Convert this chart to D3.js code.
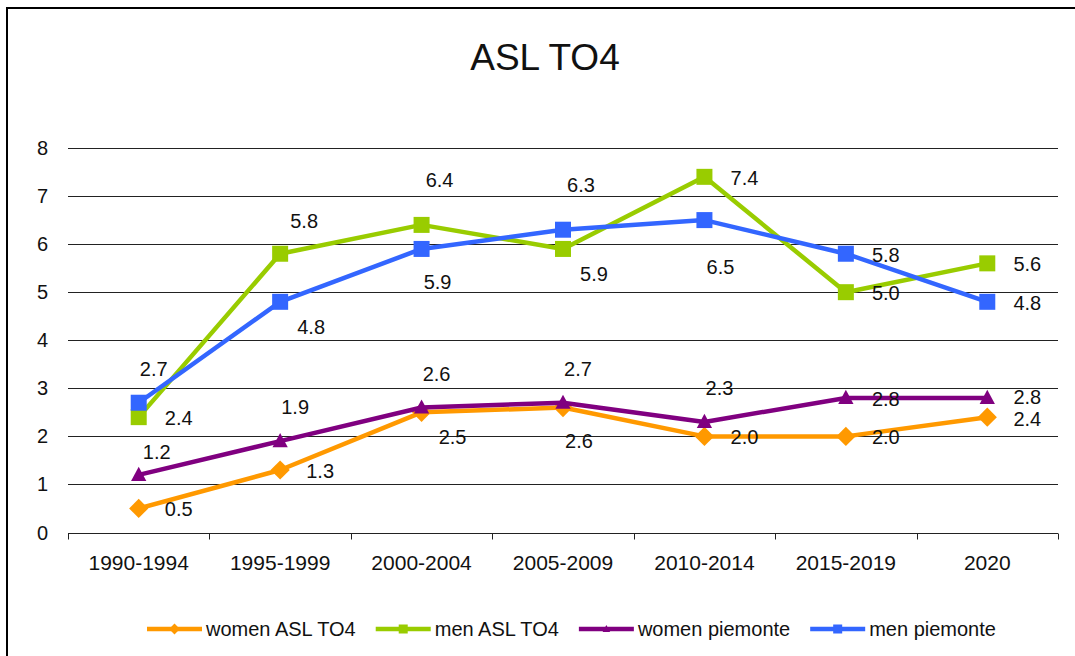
<!DOCTYPE html>
<html><head><meta charset="utf-8">
<script src="https://cdn.jsdelivr.net/npm/d3@7"></script>
<style>body{margin:0;background:#fff}svg{display:block}text{font-family:"Liberation Sans",Arial,sans-serif;fill:#111}</style>
</head><body>
<svg id="c" width="1075" height="656"></svg>
<script>
const categories = ["1990-1994","1995-1999","2000-2004","2005-2009","2010-2014","2015-2019","2020"];
const seriesNames = ["women ASL TO4","men ASL TO4","women piemonte","men piemonte"];
const womenASL = [0.5,1.3,2.5,2.6,2.0,2.0,2.4];
const menASL = [2.4,5.8,6.4,5.9,7.4,5.0,5.6];
const womenPiem = [1.2,1.9,2.6,2.7,2.3,2.8,2.8];
const menPiem = [2.7,4.8,5.9,6.3,6.5,5.8,4.8];
const yTicks = [0,1,2,3,4,5,6,7,8];
// label placement codes: a=above, A=high above, n=near above, b=below, B=far below, r=right, ar=above-right, br=below-right, ru/rd=right slightly up/down
const placeWomenASL = ["r","r","br","b","r","r","rd"];
const placeMenASL = ["r","ar","A","br","r","r","r"];
const placeWomenPiem = ["n","a","a","a","a","r","ru"];
const placeMenPiem = ["a","br","b","A","B","r","r"];

(function(){
const offsets = {a:[15,-34], A:[18,-45], n:[18,-23], b:[16,33], B:[16,47], r:[40,1], ru:[40,-1], rd:[40,2], ar:[24,-33], br:[31,25]};
const series = [
  {name:seriesNames[0], values:womenASL, place:placeWomenASL, color:"#FF9900", marker:"diamond"},
  {name:seriesNames[1], values:menASL, place:placeMenASL, color:"#99CC00", marker:"square"},
  {name:seriesNames[2], values:womenPiem, place:placeWomenPiem, color:"#800080", marker:"triangle"},
  {name:seriesNames[3], values:menPiem, place:placeMenPiem, color:"#3366FF", marker:"square"}
];

const svg = d3.select("#c");
const pL = 68, pR = 1058, pT = 148, pB = 532.5;
const x = d3.scaleBand().domain(categories).range([pL,pR]);
const y = d3.scaleLinear().domain([0,8]).range([pB,pT]);

svg.append("rect").attr("x",7).attr("y",8).attr("width",1100).attr("height",700)
  .attr("fill","none").attr("stroke","#000").attr("stroke-width",2);

svg.append("text").attr("x",545).attr("y",70).attr("text-anchor","middle")
  .style("font-size","37px").text("ASL TO4");

svg.append("g").selectAll("line").data(yTicks.filter(d=>d>0)).join("line")
  .attr("x1",pL).attr("x2",pR).attr("y1",d=>Math.round(y(d))+0.5).attr("y2",d=>Math.round(y(d))+0.5)
  .attr("stroke","#222").attr("stroke-width",1);

svg.append("g").selectAll("text").data(yTicks).join("text")
  .attr("x",48).attr("y",d=>y(d)).attr("dy","0.35em").attr("text-anchor","end")
  .style("font-size","20px").text(d=>d);

const gx = svg.append("g").attr("transform",`translate(0,${Math.round(pB)+0.5})`);
gx.append("line").attr("x1",pL).attr("x2",pR).attr("stroke","#222").attr("stroke-width",1);
const bounds = categories.map(c=>x(c)).concat([pR]);
gx.selectAll("line.t").data(bounds).join("line").attr("class","t")
  .attr("x1",d=>Math.round(d)+0.5).attr("x2",d=>Math.round(d)+0.5).attr("y1",0).attr("y2",6)
  .attr("stroke","#222").attr("stroke-width",1);
gx.selectAll("text.c").data(categories).join("text").attr("class","c")
  .attr("x",d=>x(d)+x.bandwidth()/2).attr("y",36).attr("text-anchor","middle")
  .style("font-size","21px").text(d=>d);

const cx = (i)=>x(categories[i])+x.bandwidth()/2;

function drawMarker(g, type, color, px, py, s){
  if(type==="square"){
    g.append("rect").attr("x",px-s/2).attr("y",py-s/2).attr("width",s).attr("height",s).attr("fill",color);
  } else if(type==="diamond"){
    const r = s*0.6;
    g.append("path").attr("d",`M${px},${py-r}L${px+r},${py}L${px},${py+r}L${px-r},${py}Z`).attr("fill",color);
  } else {
    const h = s*0.75, w = s*0.85;
    g.append("path").attr("d",`M${px},${py-h*0.6}L${px+w/2},${py+h*0.45}L${px-w/2},${py+h*0.45}Z`).attr("fill",color);
  }
}

const line = d3.line().x((d,i)=>cx(i)).y(d=>y(d));
series.forEach(s=>{
  const g = svg.append("g");
  g.append("path").attr("d",line(s.values)).attr("fill","none").attr("stroke",s.color)
    .attr("stroke-width",4.5).attr("stroke-linejoin","round");
  s.values.forEach((v,i)=>{
    drawMarker(g, s.marker, s.color, cx(i), y(v), s.marker==="triangle"?18:16);
  });
});
series.forEach(s=>{
  svg.append("g").selectAll("text").data(s.values).join("text")
    .attr("x",(d,i)=>cx(i)+offsets[s.place[i]][0])
    .attr("y",(d,i)=>y(d)+offsets[s.place[i]][1])
    .attr("dy","0.35em").attr("text-anchor","middle").style("font-size","20px")
    .text(d=>d3.format(".1f")(d));
});

const lg = svg.append("g");
let lx = 147;
series.forEach((s,k)=>{
  const it = lg.append("g").attr("transform",`translate(${lx},629)`);
  it.append("line").attr("x1",0).attr("x2",55).attr("stroke",s.color).attr("stroke-width",4.5);
  drawMarker(it, s.marker, s.color, 27.5, 0, 9);
  const t = it.append("text").attr("x",59).attr("dy","0.35em").style("font-size","20px").text(s.name);
  const w = t.node().getComputedTextLength();
  lx += 59 + w + 20;
});
})();
</script>
</body></html>
